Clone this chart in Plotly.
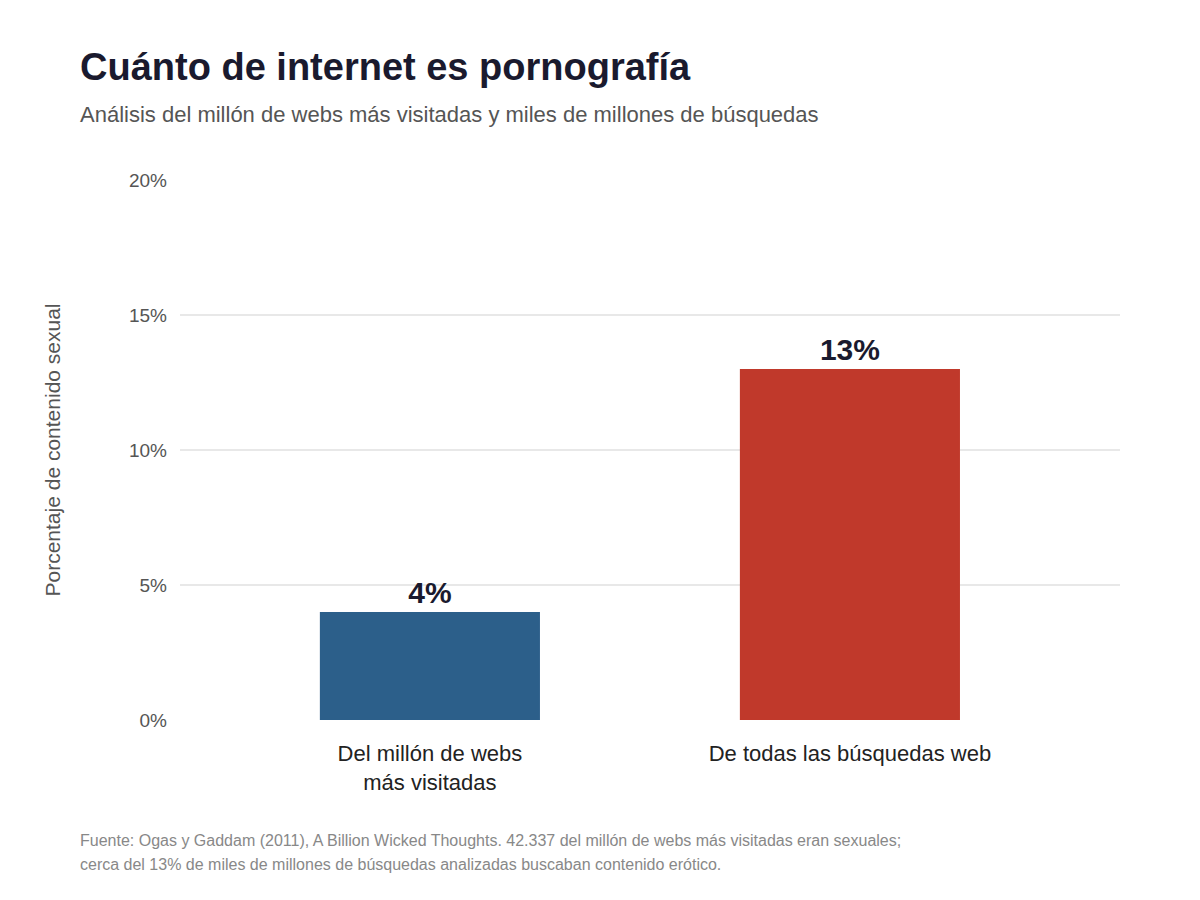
import plotly.graph_objects as go

# datos
categorias = ["Del millón de webs<br>más visitadas", "De todas las búsquedas web"]
porcentajes = [4, 13]
etiquetas = ["4%", "13%"]
colores = ["#2c5f8a", "#c0392b"]
y_ticks = [0, 5, 10, 15, 20]
y_ticktext = ["0%", "5%", "10%", "15%", "20%"]

FUENTE = "Liberation Sans, Arial, Helvetica, sans-serif"

# el navegador deja 8px de margen en el body
OFF = 8
X0, X1, Y_TOP, Y_BOT = 180, 1120, 180, 720
PW, PH = X1 - X0, Y_BOT - Y_TOP


def px_x(x):
    return (x - X0) / PW


def px_y(y):
    return (Y_BOT - y) / PH


fig = go.Figure()

fig.add_trace(go.Bar(
    x=categorias,
    y=porcentajes,
    text=etiquetas,
    textposition="outside",
    textfont=dict(family=FUENTE, size=30, color="#1a1a2e", weight="bold"),
    cliponaxis=False,
    marker=dict(color=colores, line=dict(width=0)),
    width=0.524,
    hoverinfo="skip",
))

fig.update_layout(
    width=1200,
    height=900,
    paper_bgcolor="white",
    plot_bgcolor="white",
    font=dict(family=FUENTE, color="#555"),
    showlegend=False,
    margin=dict(l=X0 - OFF, r=1200 + OFF - X1, t=Y_TOP - OFF, b=900 + OFF - Y_BOT),
    title=dict(
        text="<b>Cuánto de internet es pornografía</b>",
        x=(80 - OFF) / 1200, xref="container", xanchor="left",
        y=1 - (67 - OFF) / 900, yref="container", yanchor="middle",
        font=dict(family=FUENTE, size=38, color="#1a1a2e"),
    ),
    xaxis=dict(
        range=[-0.595, 1.643],
        showgrid=False,
        showline=False,
        zeroline=False,
        ticks="",
        tickfont=dict(family=FUENTE, size=22, color="#222"),
        ticklabelstandoff=18,
        fixedrange=True,
    ),
    yaxis=dict(
        range=[0, 20],
        tickvals=y_ticks,
        ticktext=y_ticktext,
        showgrid=True,
        gridcolor="#e8e8e8",
        gridwidth=1.5,
        zeroline=False,
        showline=False,
        ticks="",
        ticklabelstandoff=12,
        tickfont=dict(family=FUENTE, size=19, color="#555"),
        title=dict(text="Porcentaje de contenido sexual",
                   font=dict(family=FUENTE, size=21, color="#555"),
                   standoff=62),
        fixedrange=True,
    ),
    annotations=[
        dict(
            text="Análisis del millón de webs más visitadas y miles de millones de búsquedas",
            xref="paper", yref="paper", x=px_x(78), y=px_y(114),
            xanchor="left", yanchor="middle", showarrow=False,
            font=dict(family=FUENTE, size=22, color="#555"),
        ),
        dict(
            text="Fuente: Ogas y Gaddam (2011), A Billion Wicked Thoughts. 42.337 del millón de webs más visitadas eran sexuales;",
            xref="paper", yref="paper", x=px_x(78), y=px_y(840),
            xanchor="left", yanchor="middle", showarrow=False,
            font=dict(family=FUENTE, size=16, color="#888"),
        ),
        dict(
            text="cerca del 13% de miles de millones de búsquedas analizadas buscaban contenido erótico.",
            xref="paper", yref="paper", x=px_x(78), y=px_y(864),
            xanchor="left", yanchor="middle", showarrow=False,
            font=dict(family=FUENTE, size=16, color="#888"),
        ),
    ],
)

fig.write_html("out.html")
